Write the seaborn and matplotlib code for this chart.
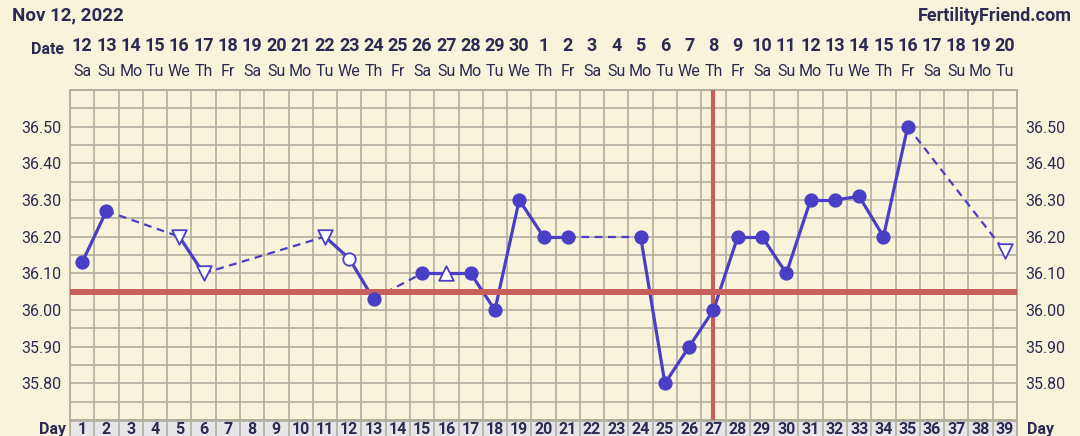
"""
Fertility chart (BBT) recreated with seaborn / matplotlib.
"""

import numpy as np
import pandas as pd
import matplotlib
matplotlib.use("Agg")
import matplotlib.pyplot as plt
import matplotlib.transforms as mtransforms
import seaborn as sns

# cycle days and temperatures (nan = no reading)
days = list(range(1, 40))
temps = [36.13, 36.27, np.nan, np.nan, 36.20, 36.10, np.nan, np.nan, np.nan, np.nan,
         36.20, 36.14, 36.03, np.nan, 36.10, 36.10, 36.10, 36.00, 36.30, 36.20,
         36.20, np.nan, np.nan, 36.20, 35.80, 35.90, 36.00, 36.20, 36.20, 36.10,
         36.30, 36.30, 36.31, 36.20, 36.50, np.nan, np.nan, np.nan, 36.16]
# marker kind for each reading: f = filled, o = open circle, v = open down, ^ = open up
kinds = ['f', 'f', '', '', 'v', 'v', '', '', '', '',
         'v', 'o', 'f', '', 'f', '^', 'f', 'f', 'f', 'f',
         'f', '', '', 'f', 'f', 'f', 'f', 'f', 'f', 'f',
         'f', 'f', 'f', 'f', 'f', '', '', '', 'v']

date_nums = ['12', '13', '14', '15', '16', '17', '18', '19', '20', '21', '22', '23', '24',
             '25', '26', '27', '28', '29', '30', '1', '2', '3', '4', '5', '6', '7', '8',
             '9', '10', '11', '12', '13', '14', '15', '16', '17', '18', '19', '20']
weekdays = ['Sa', 'Su', 'Mo', 'Tu', 'We', 'Th', 'Fr'] * 5 + ['Sa', 'Su', 'Mo', 'Tu']
y_ticks = [35.80, 35.90, 36.00, 36.10, 36.20, 36.30, 36.40, 36.50]

coverline = 36.05
ovulation_day = 27

BG = '#f8f4dc'
GRID = '#b3ae9f'
BLUE = '#4a3ec6'
RED = '#c95f5c'
TXT = '#2b2a52'

sns.set_theme(style='white', rc={'figure.facecolor': BG, 'axes.facecolor': BG})
plt.rcParams['font.family'] = ['Roboto', 'DejaVu Sans']

W, H = 1080, 436
fig = plt.figure(figsize=(W / 100, H / 100), dpi=100)
left, right, top, bottom = 70, 1017, 90, 420
ax = fig.add_axes([left / W, 1 - bottom / H, (right - left) / W, (bottom - top) / H])

df = pd.DataFrame({'day': days, 'temp': temps, 'kind': kinds}).dropna()

# connecting lines: solid for consecutive days, dashed across gaps
pts = df[['day', 'temp']].values
for (d0, t0), (d1, t1) in zip(pts[:-1], pts[1:]):
    if d1 - d0 == 1:
        sns.lineplot(x=[d0, d1], y=[t0, t1], color=BLUE, lw=2.3, ax=ax, zorder=2)
    else:
        sns.lineplot(x=[d0, d1], y=[t0, t1], color=BLUE, lw=1.6, ax=ax, zorder=2,
                     linestyle=(0, (3.5, 2.5)))

# cover line and ovulation line
ax.axhline(coverline, color=RED, lw=4.3, zorder=3)
ax.axvline(ovulation_day, color=RED, lw=3, zorder=3)

# markers
styles = {'f': ('o', BLUE, 80), 'o': ('o', 'white', 80), 'v': ('v', 'white', 110), '^': ('^', 'white', 110)}
for k, (m, fc, s) in styles.items():
    sub = df[df['kind'] == k]
    sns.scatterplot(data=sub, x='day', y='temp', marker=m, s=s, color=fc,
                    edgecolor=BLUE, linewidth=1.3, ax=ax, zorder=4, legend=False)

ax.set_xlim(0.5, 39.5)
ax.set_ylim(35.70, 36.60)
ax.set_xticks(np.arange(0.5, 40, 1))
ax.set_xticklabels([])
ax.set_yticks(y_ticks)
ax.set_yticks(np.arange(35.75, 36.6, 0.1), minor=True)
ax.set_yticklabels([f'{v:.2f}' for v in y_ticks])
ax.grid(True, which='both', color=GRID, lw=1.2)
ax.tick_params(axis='y', which='both', length=0, labelsize=11.5, labelcolor=TXT,
               pad=6, left=False, right=False, labelleft=True, labelright=True)
ax.tick_params(axis='x', length=0)
ax.set_xlabel('')
ax.set_ylabel('')
for sp in ax.spines.values():
    sp.set_color(GRID)
    sp.set_linewidth(1.4)

# date header rows
trans = mtransforms.blended_transform_factory(ax.transData, fig.transFigure)
for d, num, wd in zip(days, date_nums, weekdays):
    ax.text(d, 1 - 46 / H, num, transform=trans, ha='center', va='center',
            fontsize=13, fontweight='bold', color=TXT)
    ax.text(d, 1 - 72 / H, wd, transform=trans, ha='center', va='center',
            fontsize=11.5, color=TXT)
fig.text(48 / W, 1 - 50 / H, 'Date', ha='center', va='center', fontsize=11.5,
         fontweight='bold', color=TXT)
fig.text(12 / W, 1 - 15 / H, 'Nov 12, 2022', ha='left', va='center', fontsize=13.5,
         fontweight='bold', color=TXT)
fig.text(1072 / W, 1 - 16 / H, 'FertilityFriend.com', ha='right', va='center',
         fontsize=13, fontweight='bold', color=TXT)

# day row at the bottom
dax = fig.add_axes([left / W, 1 - 446 / H, (right - left) / W, 25 / H])
dax.set_facecolor('#e6e5e8')
dax.set_xlim(0.5, 39.5)
dax.set_ylim(0, 1)
for x in np.arange(0.5, 40, 1):
    dax.axvline(x, color=GRID, lw=1.2)
for d in days:
    dax.text(d, 0.68, str(d), ha='center', va='center', fontsize=11.5,
             fontweight='bold', color=TXT)
dax.set_xticks([])
dax.set_yticks([])
for sp in dax.spines.values():
    sp.set_color(GRID)
fig.text(53 / W, 1 - 429 / H, 'Day', ha='center', va='center', fontsize=11.5,
         fontweight='bold', color=TXT)
fig.text(1040 / W, 1 - 429 / H, 'Day', ha='center', va='center', fontsize=11.5,
         fontweight='bold', color=TXT)

fig.savefig('out.png', dpi=100, facecolor=BG)
